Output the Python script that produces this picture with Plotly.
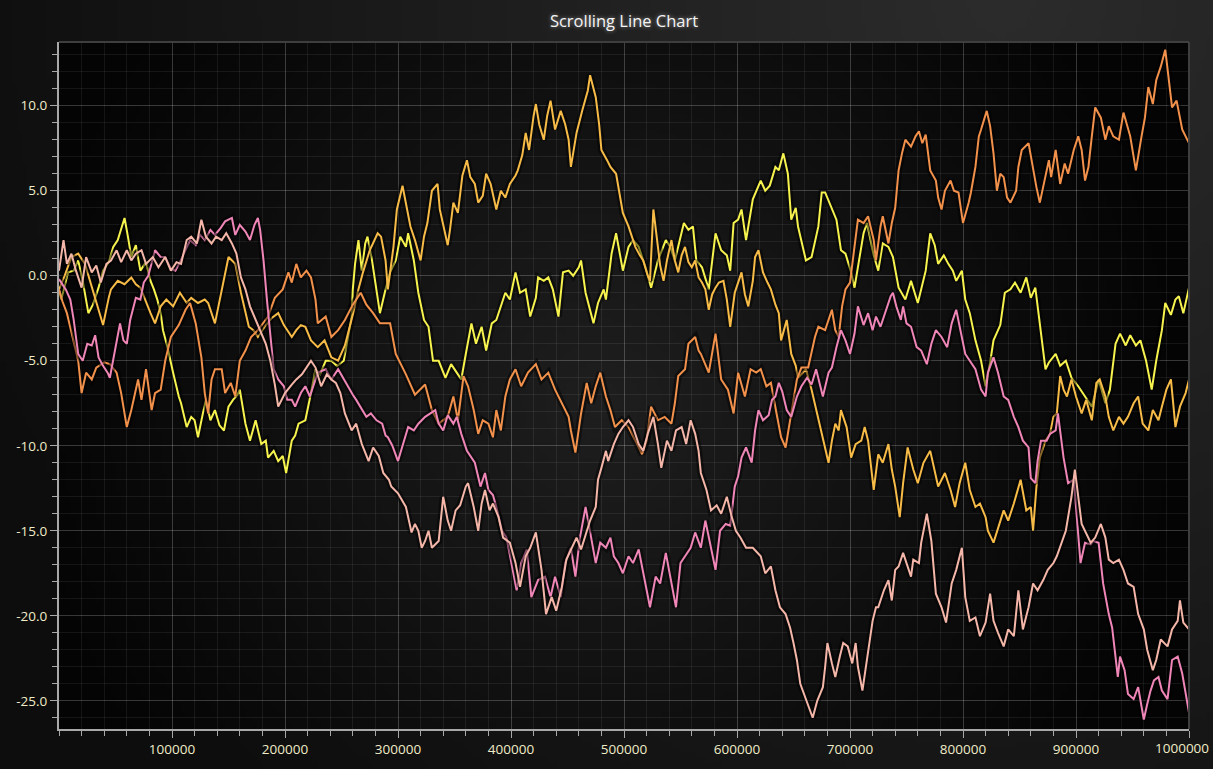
import base64
import struct
import zlib

import numpy as np
import plotly.graph_objects as go

# ---------------- data (x in thousands, y values) ----------------
yellow_xk = [0, 2, 8, 13, 17, 21, 26, 30, 35, 39, 44, 48, 52, 55, 58, 61, 64, 68, 72, 77, 81, 84, 87, 90, 92, 96, 99, 101, 106, 108, 113, 117, 120, 123, 127, 130, 134, 138, 142, 146, 150, 154, 158, 160, 165, 169, 174, 179, 183, 185, 190, 194, 198, 201, 206, 209, 212, 218, 223, 227, 231, 236, 241, 246, 252, 255, 259, 260, 262, 265, 268, 271, 273, 277, 282, 284, 289, 293, 298, 302, 307, 309, 314, 318, 323, 327, 331, 336, 342, 347, 352, 356, 360, 365, 369, 374, 378, 383, 387, 391, 395, 399, 404, 408, 413, 417, 422, 424, 429, 433, 437, 442, 446, 451, 455, 460, 462, 466, 470, 473, 477, 482, 484, 489, 493, 497, 499, 504, 508, 513, 519, 524, 530, 537, 541, 545, 550, 553, 557, 561, 564, 569, 575, 581, 586, 591, 594, 597, 601, 604, 608, 614, 621, 625, 629, 634, 637, 641, 645, 648, 652, 654, 661, 666, 672, 675, 678, 684, 688, 692, 696, 701, 704, 709, 712, 715, 719, 721, 725, 729, 734, 738, 743, 749, 754, 757, 760, 763, 767, 771, 775, 778, 783, 787, 791, 794, 799, 802, 806, 811, 816, 820, 824, 827, 833, 837, 842, 846, 851, 856, 860, 864, 866, 869, 873, 876, 882, 886, 891, 896, 902, 908, 914, 920, 926, 930, 933, 935, 939, 944, 948, 953, 957, 962, 967, 971, 976, 979, 984, 988, 991, 995, 1000]
yellow_y = [-0.8, -1.4, 0.2, 0.3, 0.9, -0.3, -2.2, -1.7, -0.7, 0.3, 0.8, 1.7, 2.1, 2.7, 3.4, 2.3, 1.1, 1.8, 0.3, 0.8, -0.3, -0.8, -1.4, -2.2, -3.2, -4.2, -5.0, -5.7, -7.1, -7.5, -8.9, -8.3, -8.5, -9.5, -8.2, -7.3, -8.5, -7.9, -8.8, -9.1, -7.7, -7.3, -7.0, -6.7, -8.7, -9.7, -8.5, -9.9, -9.7, -10.7, -10.3, -10.9, -10.6, -11.6, -9.7, -9.4, -8.7, -8.5, -6.9, -5.5, -5.8, -5.0, -5.0, -5.3, -5.0, -3.8, -2.4, -0.8, 0.7, 2.1, 0.3, 1.9, 2.3, 0.9, -1.4, -2.2, -0.8, 0.2, 0.9, 2.3, 1.7, 2.5, 0.9, -1.0, -2.6, -3.0, -5.0, -5.0, -6.0, -5.2, -5.7, -6.1, -4.6, -2.8, -4.0, -3.0, -4.4, -2.8, -2.6, -1.8, -1.0, -1.4, 0.2, -1.0, -0.8, -2.4, -1.3, -0.1, -0.3, -0.1, -0.8, -2.4, 0.2, 0.3, 0.0, 0.5, 0.9, -1.0, -2.0, -2.8, -1.6, -0.8, -1.4, 1.3, 2.5, 1.1, 0.3, 1.7, 2.1, 1.7, 0.5, -0.7, 0.9, 2.1, 1.7, 0.9, 2.3, 3.1, 2.7, 2.9, 0.9, 0.5, -0.8, 2.5, 1.5, 1.2, 0.3, 3.1, 3.3, 3.9, 2.1, 4.5, 5.6, 5.0, 5.3, 6.4, 6.2, 7.2, 6.0, 3.3, 4.0, 2.9, 0.9, 1.1, 2.9, 4.9, 4.9, 3.9, 3.3, 1.5, 1.3, 0.2, -0.7, 1.3, 2.5, 3.1, 1.9, 1.2, 0.3, 1.9, 1.7, 1.1, -0.7, -1.4, -0.3, -1.0, -1.6, -0.8, 0.3, 2.5, 1.8, 0.7, 1.2, 0.7, 0.3, -0.3, 0.3, -1.4, -2.2, -3.8, -5.0, -6.5, -5.1, -3.8, -2.9, -1.0, -0.8, -0.4, -1.0, -0.1, -1.3, -0.7, -1.8, -3.4, -5.5, -5.1, -4.6, -5.3, -5.0, -6.0, -6.5, -7.1, -7.7, -6.1, -7.5, -6.7, -5.0, -4.0, -3.4, -4.1, -3.5, -4.1, -3.8, -5.0, -6.7, -5.0, -3.2, -1.6, -2.3, -1.4, -1.2, -2.2, -0.7]

gold_xk = [0, 5, 11, 17, 23, 29, 35, 39, 44, 46, 52, 58, 64, 68, 72, 76, 81, 85, 90, 95, 101, 107, 113, 117, 123, 129, 132, 138, 143, 147, 150, 156, 161, 168, 172, 176, 183, 188, 194, 199, 206, 210, 214, 218, 223, 229, 235, 241, 247, 253, 260, 265, 269, 275, 282, 285, 289, 291, 296, 299, 304, 306, 311, 315, 320, 323, 326, 330, 335, 337, 342, 344, 346, 349, 353, 357, 361, 364, 368, 371, 375, 378, 382, 387, 391, 395, 399, 404, 406, 410, 413, 416, 420, 422, 425, 429, 432, 435, 439, 444, 448, 451, 453, 458, 463, 468, 470, 475, 478, 480, 485, 488, 493, 497, 499, 504, 507, 510, 514, 517, 521, 523, 526, 529, 532, 535, 538, 542, 545, 548, 551, 554, 557, 560, 563, 566, 569, 572, 575, 578, 581, 584, 588, 591, 594, 598, 604, 607, 610, 614, 616, 619, 623, 627, 630, 634, 637, 639, 644, 648, 652, 654, 661, 666, 672, 676, 681, 684, 687, 690, 692, 697, 701, 705, 710, 713, 716, 721, 725, 729, 734, 737, 740, 744, 747, 751, 756, 760, 765, 771, 775, 778, 784, 789, 793, 797, 802, 806, 811, 815, 820, 822, 827, 831, 836, 840, 845, 851, 854, 856, 860, 862, 865, 868, 873, 877, 880, 883, 886, 889, 892, 896, 900, 905, 909, 914, 918, 921, 926, 929, 933, 938, 942, 946, 951, 955, 959, 964, 968, 973, 976, 980, 984, 988, 992, 997, 1000]
gold_y = [-0.8, 0.0, 1.1, 1.3, 0.7, -0.7, -2.0, -2.9, -1.3, -0.8, -0.3, -0.5, -0.1, -0.5, -0.7, -1.4, -2.2, -2.8, -1.8, -1.4, -1.8, -1.0, -1.6, -1.3, -1.6, -1.4, -1.6, -2.8, -1.1, 0.3, 1.1, 0.7, -1.0, -3.0, -3.2, -3.6, -2.9, -2.5, -2.2, -2.9, -3.6, -3.2, -2.9, -3.0, -3.8, -4.2, -3.8, -4.8, -5.0, -4.1, -2.3, -0.8, 0.2, 1.5, 2.5, 2.3, 0.9, -0.8, 1.7, 3.9, 5.3, 4.6, 2.9, 2.1, 0.9, 2.3, 3.1, 5.0, 5.4, 3.9, 2.5, 1.8, 2.7, 4.3, 3.7, 5.9, 6.8, 5.8, 5.4, 4.3, 4.7, 6.0, 5.4, 3.9, 5.0, 4.6, 5.4, 5.9, 6.2, 7.1, 8.4, 7.4, 9.4, 10.1, 8.9, 8.0, 9.4, 10.3, 8.6, 9.7, 8.9, 8.0, 6.4, 8.4, 9.7, 10.9, 11.8, 10.5, 8.9, 7.4, 6.8, 6.4, 6.0, 4.5, 3.7, 2.9, 2.3, 1.7, 1.2, 0.9, 0.0, -0.3, 3.9, 2.4, 0.6, -0.3, 0.9, 2.1, 0.9, 0.2, 1.2, 1.7, 0.8, 0.5, 0.9, -0.1, -0.4, -0.8, -2.0, -1.1, -0.7, -0.4, -0.3, -1.4, -3.0, -1.0, 0.2, -1.1, -1.8, -0.3, 1.1, 1.5, 0.2, -0.4, -0.8, -1.7, -2.2, -3.8, -2.6, -4.6, -5.3, -6.0, -5.5, -6.7, -8.5, -9.5, -11.0, -9.7, -8.7, -9.1, -7.9, -8.9, -10.7, -9.9, -9.7, -8.9, -9.7, -12.6, -10.5, -11.0, -9.9, -11.4, -12.4, -14.2, -12.2, -10.1, -11.4, -12.2, -11.0, -10.3, -11.4, -12.4, -11.6, -12.6, -13.6, -12.2, -11.0, -12.6, -13.6, -13.4, -14.2, -15.0, -15.7, -14.8, -13.8, -14.4, -13.4, -12.0, -13.0, -13.8, -13.6, -15.0, -12.4, -10.7, -9.7, -9.3, -8.3, -8.1, -5.9, -6.7, -7.1, -6.1, -7.1, -8.1, -7.3, -8.5, -6.3, -6.1, -7.1, -8.3, -9.1, -8.3, -8.7, -8.3, -7.5, -7.1, -8.7, -9.1, -7.9, -8.5, -7.7, -6.7, -6.1, -8.9, -7.7, -6.9, -6.1]

orange_xk = [0, 3, 7, 13, 17, 20, 24, 29, 33, 40, 45, 51, 55, 60, 64, 70, 73, 77, 82, 85, 90, 94, 99, 106, 112, 116, 121, 126, 129, 132, 135, 138, 144, 147, 152, 156, 160, 165, 170, 176, 185, 191, 198, 203, 206, 210, 214, 219, 223, 227, 229, 236, 241, 247, 253, 260, 267, 272, 278, 284, 293, 298, 307, 315, 324, 330, 336, 344, 349, 353, 358, 362, 367, 371, 375, 380, 384, 387, 391, 395, 399, 404, 409, 415, 422, 427, 433, 439, 445, 451, 453, 457, 462, 467, 471, 475, 479, 484, 488, 492, 498, 504, 510, 516, 520, 524, 530, 536, 542, 545, 548, 554, 557, 563, 566, 568, 575, 581, 586, 592, 597, 601, 607, 612, 617, 621, 626, 630, 635, 639, 643, 648, 653, 657, 663, 669, 672, 678, 684, 687, 690, 693, 696, 700, 704, 707, 712, 716, 721, 723, 727, 729, 734, 737, 740, 743, 746, 749, 754, 758, 761, 764, 767, 771, 776, 778, 781, 784, 789, 792, 796, 800, 805, 807, 811, 814, 816, 821, 824, 827, 830, 833, 836, 839, 842, 847, 849, 852, 858, 862, 865, 868, 873, 876, 878, 882, 886, 890, 893, 898, 902, 905, 908, 911, 914, 917, 922, 926, 929, 933, 938, 942, 948, 953, 958, 961, 964, 968, 971, 975, 979, 982, 985, 989, 994, 997, 1000]
orange_y = [-0.8, -1.5, -2.2, -3.8, -5.0, -6.9, -5.7, -6.1, -5.4, -5.1, -5.2, -5.7, -6.9, -8.9, -7.9, -6.1, -7.3, -5.5, -7.9, -6.9, -6.7, -5.0, -3.6, -2.9, -2.0, -1.6, -2.8, -4.8, -6.9, -8.1, -6.1, -5.5, -5.5, -6.9, -6.3, -7.1, -5.0, -4.4, -3.6, -3.2, -2.4, -1.3, -0.8, 0.2, -0.4, 0.7, -0.1, 0.3, -0.1, -1.4, -2.8, -2.4, -3.6, -3.2, -2.6, -1.7, -1.0, -1.7, -2.2, -2.8, -2.8, -4.6, -5.8, -7.0, -6.4, -7.9, -8.7, -8.3, -7.1, -8.5, -5.9, -6.5, -7.9, -9.3, -8.5, -8.7, -9.5, -7.9, -9.1, -7.1, -6.1, -5.5, -6.5, -5.7, -5.2, -6.1, -5.7, -6.7, -7.5, -8.3, -9.1, -10.4, -8.1, -6.3, -7.5, -6.5, -5.7, -7.1, -7.9, -8.9, -8.5, -8.9, -9.7, -10.5, -9.7, -7.7, -8.5, -8.3, -8.7, -7.5, -5.9, -5.5, -4.0, -3.6, -4.4, -4.6, -5.7, -3.4, -6.1, -6.7, -8.1, -5.7, -7.1, -5.5, -5.7, -5.5, -6.5, -6.3, -8.1, -9.5, -10.1, -8.1, -6.1, -5.4, -5.4, -3.6, -3.0, -3.2, -2.0, -3.2, -3.6, -1.8, -0.8, -0.4, 1.7, 3.3, 3.1, 3.5, 2.1, 0.9, 2.9, 3.5, 1.9, 3.1, 4.0, 6.2, 7.2, 8.0, 7.6, 8.2, 8.5, 7.8, 8.3, 6.2, 5.6, 4.6, 3.9, 5.0, 5.6, 5.0, 4.9, 3.1, 4.3, 4.9, 6.4, 8.2, 8.6, 9.7, 8.8, 7.2, 5.0, 6.0, 5.8, 4.6, 4.3, 5.0, 6.4, 7.4, 7.8, 6.2, 5.2, 4.3, 6.0, 6.8, 5.8, 7.4, 5.4, 6.6, 6.0, 7.4, 8.2, 7.4, 5.6, 6.4, 8.2, 9.9, 9.3, 8.0, 8.8, 8.2, 8.0, 9.6, 8.2, 6.2, 8.2, 9.3, 11.1, 10.1, 11.5, 12.3, 13.3, 11.7, 9.9, 10.3, 8.6, 8.2, 7.8]

pink_xk = [0, 6, 10, 13, 17, 21, 25, 29, 32, 35, 39, 43, 45, 50, 54, 57, 60, 63, 68, 72, 75, 79, 82, 85, 90, 94, 99, 103, 107, 112, 116, 121, 125, 129, 134, 138, 143, 147, 153, 156, 160, 165, 169, 173, 176, 178, 181, 184, 187, 190, 194, 199, 202, 206, 209, 214, 218, 222, 227, 229, 236, 241, 247, 252, 256, 260, 263, 268, 272, 276, 281, 286, 289, 291, 295, 300, 305, 309, 314, 318, 324, 329, 333, 336, 340, 344, 349, 352, 356, 361, 365, 368, 373, 377, 380, 384, 387, 392, 396, 400, 405, 409, 414, 418, 424, 430, 435, 439, 444, 448, 453, 457, 461, 466, 470, 475, 479, 484, 488, 491, 495, 499, 504, 508, 513, 517, 523, 528, 532, 537, 541, 546, 550, 554, 559, 563, 568, 572, 576, 581, 585, 590, 594, 598, 601, 604, 608, 613, 616, 619, 623, 628, 631, 634, 637, 640, 644, 648, 653, 657, 662, 666, 670, 672, 676, 681, 684, 688, 692, 696, 700, 704, 707, 712, 716, 720, 723, 727, 731, 736, 738, 741, 745, 747, 750, 754, 759, 763, 768, 772, 776, 781, 786, 790, 794, 798, 802, 806, 811, 816, 820, 822, 827, 831, 836, 840, 845, 849, 853, 858, 860, 864, 866, 869, 874, 877, 882, 884, 889, 893, 898, 900, 904, 908, 913, 915, 920, 924, 929, 932, 937, 939, 943, 946, 951, 955, 960, 963, 966, 969, 973, 976, 981, 985, 990, 994, 1000]
pink_y = [-0.2, -0.8, -1.4, -2.6, -4.6, -5.0, -4.0, -4.1, -3.5, -4.8, -5.3, -5.7, -6.0, -4.2, -2.8, -3.8, -4.0, -2.6, -1.3, -1.4, -0.4, 0.0, 0.7, 1.5, 1.1, 1.1, 0.4, 0.3, 0.8, 1.5, 2.1, 1.8, 2.4, 2.1, 2.7, 2.4, 2.8, 3.2, 3.4, 2.4, 3.0, 2.6, 2.1, 3.0, 3.4, 2.7, 0.9, -1.4, -3.5, -5.5, -6.1, -6.5, -7.3, -7.3, -7.7, -6.9, -6.5, -7.1, -6.1, -5.7, -5.5, -6.1, -5.5, -6.1, -6.5, -7.0, -7.3, -7.9, -8.3, -8.1, -8.5, -8.7, -9.4, -9.5, -10.0, -10.9, -9.7, -8.9, -9.1, -8.7, -8.3, -8.1, -7.9, -8.7, -9.1, -8.2, -8.7, -8.3, -9.3, -10.3, -10.7, -11.0, -12.4, -11.6, -12.6, -12.9, -13.6, -15.0, -15.4, -16.8, -18.5, -16.9, -16.1, -18.9, -17.9, -17.7, -18.9, -17.7, -18.9, -16.9, -16.0, -17.7, -15.4, -13.6, -15.0, -16.9, -15.7, -16.0, -15.4, -16.5, -16.9, -17.5, -16.5, -16.9, -16.1, -17.5, -19.5, -17.7, -18.1, -16.3, -17.7, -19.5, -16.9, -16.5, -16.0, -15.1, -16.0, -14.4, -15.7, -17.3, -15.0, -14.6, -14.7, -12.4, -11.8, -10.7, -10.1, -11.0, -9.1, -7.9, -8.5, -8.2, -7.3, -7.1, -6.3, -6.8, -7.9, -8.3, -7.1, -6.5, -6.0, -6.4, -5.5, -6.1, -7.1, -5.7, -5.4, -4.2, -3.2, -3.8, -4.6, -3.4, -1.8, -2.9, -2.2, -3.2, -2.4, -3.0, -2.2, -1.2, -1.0, -1.8, -2.6, -1.8, -2.8, -3.0, -4.2, -4.4, -5.2, -4.0, -3.2, -3.6, -4.2, -2.8, -2.0, -3.2, -4.6, -5.0, -5.5, -6.7, -7.1, -5.7, -4.8, -5.7, -7.1, -7.3, -8.3, -8.9, -9.7, -10.1, -11.9, -12.2, -10.9, -9.7, -9.7, -9.3, -9.1, -8.1, -10.7, -12.2, -12.0, -13.6, -16.9, -15.7, -15.8, -15.6, -15.7, -18.1, -19.9, -20.7, -23.6, -22.4, -23.2, -24.6, -24.9, -24.2, -26.1, -25.2, -24.4, -23.8, -23.6, -24.4, -24.9, -22.6, -22.4, -23.4, -25.7]

peach_xk = [0, 4, 7, 11, 15, 20, 24, 29, 33, 37, 42, 46, 51, 55, 60, 64, 68, 73, 77, 83, 88, 94, 99, 104, 108, 113, 117, 122, 126, 130, 135, 139, 144, 148, 153, 157, 161, 165, 169, 174, 178, 183, 187, 191, 194, 200, 206, 210, 215, 218, 223, 227, 232, 237, 241, 245, 249, 253, 259, 263, 268, 274, 278, 283, 287, 292, 294, 300, 307, 312, 315, 318, 321, 324, 327, 330, 333, 336, 340, 344, 347, 351, 355, 360, 362, 367, 371, 374, 377, 381, 384, 389, 393, 399, 404, 408, 413, 417, 422, 424, 427, 431, 436, 440, 445, 449, 453, 458, 462, 466, 470, 475, 477, 480, 484, 486, 491, 495, 499, 504, 508, 513, 517, 521, 526, 530, 533, 538, 542, 546, 551, 555, 559, 563, 566, 568, 573, 577, 582, 586, 591, 595, 599, 603, 608, 614, 621, 625, 630, 634, 638, 643, 647, 650, 653, 656, 660, 662, 667, 671, 676, 678, 680, 684, 687, 691, 694, 698, 702, 705, 707, 711, 714, 716, 720, 723, 725, 730, 734, 737, 740, 743, 747, 750, 754, 756, 761, 763, 768, 772, 776, 781, 785, 790, 794, 799, 802, 806, 811, 815, 820, 824, 827, 831, 836, 840, 845, 849, 853, 858, 862, 866, 871, 875, 880, 883, 887, 891, 896, 899, 905, 908, 913, 917, 922, 926, 929, 933, 938, 942, 946, 951, 955, 960, 963, 968, 971, 975, 981, 985, 990, 992, 995, 1000]
peach_y = [0.3, 2.1, 0.7, 1.3, 0.3, -0.7, 1.1, 0.2, 0.6, -0.4, 0.7, 0.9, 1.5, 0.8, 1.5, 0.9, 1.3, 1.5, 0.7, 1.1, 0.5, 1.1, 0.3, 0.8, 0.7, 2.1, 2.3, 1.9, 3.3, 2.3, 1.9, 2.3, 2.1, 2.5, 1.9, 1.3, -0.1, -0.8, -1.8, -2.6, -3.2, -4.0, -5.0, -6.4, -7.7, -6.9, -6.4, -6.1, -5.8, -5.5, -5.0, -5.4, -6.5, -5.8, -6.1, -6.3, -6.9, -8.1, -9.1, -8.7, -9.9, -10.9, -10.1, -10.6, -11.6, -12.0, -12.4, -12.8, -13.6, -15.1, -14.6, -15.0, -16.0, -15.6, -15.0, -16.0, -15.8, -15.6, -13.0, -14.4, -15.0, -13.8, -13.5, -12.4, -12.2, -13.6, -15.0, -13.4, -12.6, -13.8, -13.4, -14.2, -15.4, -15.7, -16.9, -18.3, -16.5, -16.0, -15.1, -16.1, -17.3, -19.9, -18.9, -19.7, -18.3, -16.7, -16.1, -15.4, -16.1, -15.3, -14.4, -13.6, -12.0, -11.3, -10.3, -10.9, -9.9, -9.3, -8.9, -8.5, -8.9, -9.9, -10.3, -9.3, -8.3, -9.9, -11.3, -9.7, -10.3, -9.1, -8.9, -9.9, -8.5, -9.3, -10.3, -11.6, -12.6, -13.8, -13.5, -14.0, -13.0, -14.1, -15.0, -15.4, -16.0, -16.0, -16.5, -17.5, -17.1, -18.5, -19.5, -19.9, -20.7, -21.6, -22.6, -24.0, -24.7, -25.1, -26.0, -25.0, -24.2, -23.0, -21.6, -22.8, -23.6, -22.4, -21.6, -21.8, -22.8, -21.6, -23.0, -24.4, -23.0, -22.0, -20.3, -19.5, -19.5, -18.5, -17.9, -19.1, -17.3, -17.1, -16.3, -16.9, -17.7, -16.7, -16.9, -15.7, -14.0, -15.6, -18.7, -19.5, -20.4, -18.1, -17.3, -16.0, -18.9, -20.3, -20.1, -21.2, -20.4, -18.7, -20.3, -21.0, -21.8, -20.8, -21.2, -18.5, -20.8, -19.5, -18.1, -18.5, -17.9, -17.3, -16.9, -16.5, -15.7, -15.0, -13.0, -11.4, -14.6, -15.0, -15.7, -15.4, -14.6, -15.4, -16.7, -16.9, -16.7, -17.3, -18.1, -18.3, -19.9, -20.8, -22.0, -23.2, -22.6, -21.4, -21.8, -20.8, -20.3, -19.1, -20.4, -20.8]

series_names = ["Series 1", "Series 2", "Series 3", "Series 4", "Series 5"]
series_colors = ["#f6f24e", "#f7bb47", "#f2914b", "#ef86b7", "#f4b6a8"]

x_tick_vals = [100000, 200000, 300000, 400000, 500000, 600000, 700000, 800000, 900000, 1000000]
x_tick_text = ["100000", "200000", "300000", "400000", "500000", "600000", "700000", "800000", "900000", "1000000"]
y_tick_vals = [-25, -20, -15, -10, -5, 0, 5, 10]
y_tick_text = ["-25.0", "-20.0", "-15.0", "-10.0", "-5.0", "0.0", "5.0", "10.0"]

# ---------------- background gradients (generated PNGs) ----------------
def png_uri(arr):
    h, w, _ = arr.shape
    raw = b"".join(b"\x00" + arr[i].tobytes() for i in range(h))

    def chunk(t, d):
        return struct.pack(">I", len(d)) + t + d + struct.pack(">I", zlib.crc32(t + d) & 0xFFFFFFFF)

    png = (b"\x89PNG\r\n\x1a\n"
           + chunk(b"IHDR", struct.pack(">IIBBBBB", w, h, 8, 2, 0, 0, 0))
           + chunk(b"IDAT", zlib.compress(raw, 9))
           + chunk(b"IEND", b""))
    return "data:image/png;base64," + base64.b64encode(png).decode()


W, H = 1213, 769
ML, MR, MT, MB = 59, 24, 42, 40
PW, PH = W - ML - MR, H - MT - MB

s = 5
gx, gy = np.meshgrid(np.arange(0, W, s, dtype=float), np.arange(0, H, s, dtype=float))
d = np.sqrt((gx - 1000) ** 2 + (gy - 0) ** 2)
pv = 13 + 31 * np.clip(1 - d / 1100, 0, 1)
paper_img = np.repeat(pv[:, :, None], 3, axis=2).astype(np.uint8)

px_, py_ = np.meshgrid(np.arange(ML, ML + PW, s, dtype=float), np.arange(MT, MT + PH, s, dtype=float))
r = np.sqrt(((px_ - 600) / 600) ** 2 + ((py_ - 400) / 620) ** 2)
vv = 4 + 27 * np.clip(1 - r, 0, 1) ** 1.1
plot_img = np.repeat(vv[:, :, None], 3, axis=2).astype(np.uint8)

# ---------------- figure ----------------
fig = go.Figure()
all_x = [yellow_xk, gold_xk, orange_xk, pink_xk, peach_xk]
all_y = [yellow_y, gold_y, orange_y, pink_y, peach_y]
for name, col, xk, yv in zip(series_names, series_colors, all_x, all_y):
    xs = [v * 1000 for v in xk]
    fig.add_trace(go.Scatter(x=xs, y=yv, mode="lines", hoverinfo="skip", showlegend=False,
                             line=dict(color="rgba(0,0,0,0.45)", width=7)))
    fig.add_trace(go.Scatter(x=xs, y=yv, mode="lines", name=name, showlegend=False,
                             line=dict(color=col, width=2)))

tick_font = dict(family="Open Sans, Noto Sans, sans-serif", size=13.5, color="#f0ecc8")
axis_col = "#a8a8a8"

fig.update_layout(
    width=W, height=H, autosize=False,
    margin=dict(l=ML, r=MR, t=MT, b=MB, pad=0),
    paper_bgcolor="#161616", plot_bgcolor="#101010",
    title=dict(text="Scrolling Line Chart", x=0.5, xanchor="center", y=1 - 21 / H, yanchor="middle",
               xref="paper", yref="container",
               font=dict(family="Open Sans, Noto Sans, sans-serif", size=16.5, color="#f4f4f4",
                         shadow="0px 0px 4px rgba(255,255,255,0.55)")),
    xaxis=dict(range=[0, 1000000], tickmode="array", tickvals=x_tick_vals, ticktext=x_tick_text,
               showgrid=True, gridcolor="rgba(255,255,255,0.15)", gridwidth=1, zeroline=False,
               showline=True, linecolor=axis_col, linewidth=2, ticks="outside", ticklen=7,
               tickcolor=axis_col, tickwidth=1, tickfont=tick_font, automargin=False,
               minor=dict(tickmode="linear", tick0=0, dtick=20000, showgrid=True,
                          gridcolor="rgba(255,255,255,0.07)", ticks="outside", ticklen=5,
                          tickcolor=axis_col)),
    yaxis=dict(range=[-26.66, 13.75], tickmode="array", tickvals=y_tick_vals, ticktext=y_tick_text,
               showgrid=True, gridcolor="rgba(255,255,255,0.15)", gridwidth=1, zeroline=False,
               showline=True, linecolor=axis_col, linewidth=2, ticks="outside", ticklen=7,
               tickcolor=axis_col, tickwidth=1, tickfont=tick_font, automargin=False,
               minor=dict(tickmode="linear", tick0=0, dtick=1, showgrid=True,
                          gridcolor="rgba(255,255,255,0.07)", ticks="outside", ticklen=5,
                          tickcolor=axis_col)),
    images=[
        dict(source=png_uri(paper_img), xref="paper", yref="paper", x=-ML / PW, y=1 + MT / PH,
             sizex=W / PW, sizey=H / PH, sizing="stretch", layer="below", xanchor="left", yanchor="top"),
        dict(source=png_uri(plot_img), xref="paper", yref="paper", x=0, y=1,
             sizex=1, sizey=1, sizing="stretch", layer="below", xanchor="left", yanchor="top"),
    ],
    shapes=[
        dict(type="line", xref="paper", yref="paper", x0=0, y0=1, x1=1, y1=1,
             line=dict(color="#3e3e3e", width=2), layer="above"),
        dict(type="line", xref="paper", yref="paper", x0=1, y0=0, x1=1, y1=1,
             line=dict(color="#3e3e3e", width=2), layer="above"),
    ],
    annotations=[
        dict(text=x_tick_text[-1], x=x_tick_vals[-1], xref="x", y=0, yref="paper",
             xanchor="right", yanchor="middle", xshift=22, yshift=-19, showarrow=False, font=tick_font),
    ],
    hovermode=False,
)

fig.write_html("out.html")
